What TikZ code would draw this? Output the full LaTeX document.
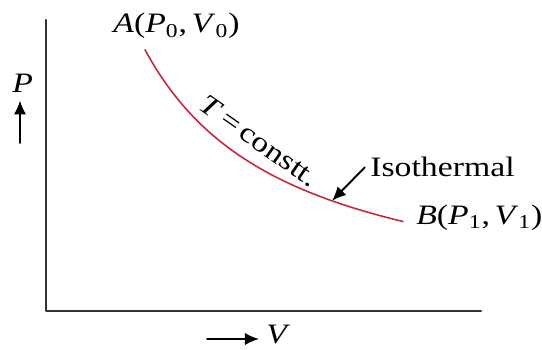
\documentclass[tikz,border=0pt]{standalone}
\usepackage{fontspec}
\setmainfont[FakeStretch=1.2]{Liberation Serif}
\usetikzlibrary{arrows.meta}
\definecolor{isored}{RGB}{200,40,60}
\tikzset{lbl/.style={inner sep=0pt,font=\fontsize{16}{18}\selectfont},
  blackarr/.style={line width=1.1pt,-{Latex[length=8pt,width=7pt]}}}
\begin{document}
\begin{tikzpicture}[x=0.2mm,y=-0.2mm,line cap=round,line join=round]
\useasboundingbox (0,0) rectangle (542,350);
\coordinate (top) at (46,20);\coordinate (O) at (46,311);\coordinate (right) at (481,311);
\draw[black!80,line width=1.3pt] (top)--(O)--(right);
\draw[isored,line width=0.9pt] plot[domain=145:403,samples=60,smooth] (\x,{318-389/(\x/100)});
\coordinate (hit) at (332,{318-389/3.32});
\node[lbl,anchor=base west] (A) at (113,33) {\textit{A}(\textit{P}\textsubscript{0},\,\textit{V}\textsubscript{0})};
\node[lbl,anchor=base west] (B) at (416,224) {\textit{B}(\textit{P}\textsubscript{1},\,\textit{V}\textsubscript{1})};
\node[lbl,anchor=base west] (iso) at (370,177) {Isothermal};
\node[lbl,rotate=-35] (T) at (259,141) {\textit{T}\,=\,constt.};
\node[lbl,anchor=base west] (P) at (12,93) {\textit{P}};
\node[lbl,anchor=base west] (V) at (266,343) {\textit{V}};
\coordinate (pTail) at (20,143);\coordinate (vTail) at (207,339);
\draw[blackarr] (pTail)--([yshift=-4pt]P.south-|pTail);
\draw[blackarr] (vTail)--([xshift=-4pt]V.west|-vTail);
\draw[blackarr] ([xshift=-3pt]iso.west)--(hit);
\end{tikzpicture}
\end{document}
